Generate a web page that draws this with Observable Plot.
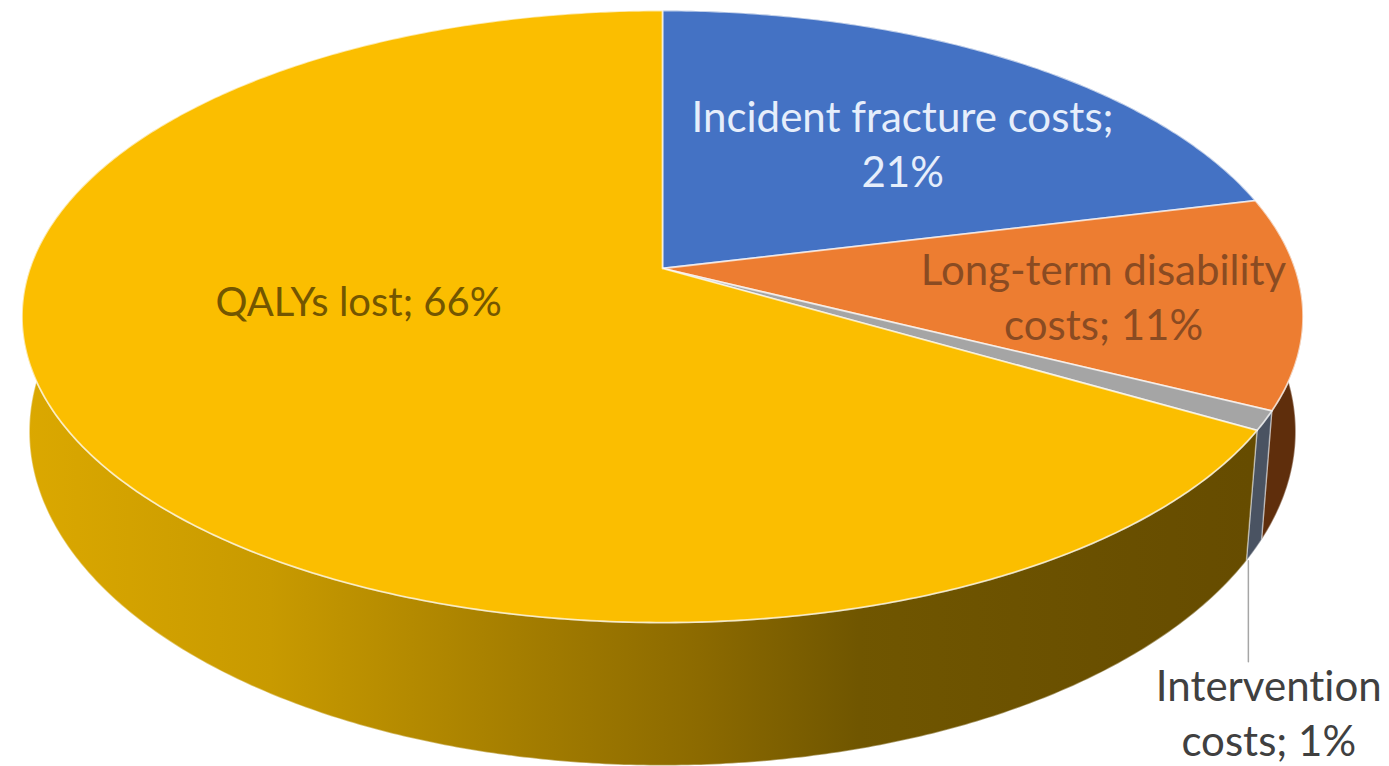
<!DOCTYPE html>
<html>
<head>
<meta charset="utf-8">
<script src="https://cdn.jsdelivr.net/npm/d3@7"></script>
<script src="https://cdn.jsdelivr.net/npm/@observablehq/plot@0.6"></script>
<style>
  html, body { margin: 0; padding: 0; background: #fff; }
  svg { display: block; }
  svg text { font-variant-ligatures: none; }
</style>
</head>
<body>
<div id="chart"></div>
<script>
// Shares of the cost burden, clockwise from twelve o'clock.
const categories = ["Incident fracture costs", "Long-term disability costs", "Intervention costs", "QALYs lost"];
const shares = [21, 11, 1, 66];
const labelTexts = ["Incident fracture costs;\n21%", "Long-term disability\ncosts; 11%", "Intervention\ncosts; 1%", "QALYs lost; 66%"];

// Appearance, in slice order.
const topColors = ["#4472C4", "#ED7D31", "#A5A5A5", "#FBBE00"];
const wallColors = ["#2A4A85", "#5F2E0C", "#4A5362", "url(#wallShade)"];
const labelColors = ["#E6EEFB", "#8A4B22", "#404040", "#735600"];
const labelSizes = [42, 42, 42, 40];

// Label anchors on the disc: bearing in degrees and fraction of the radius.
const labelBearings = [43, 98.7, 147.4, 255.9];
const labelRadii = [0.5945, 0.6937, 1.44, 0.486];

// Perspective view of the two faces of the disc.
const centerX = 662;
const topFace = {a: 632.6, b: -256.4, c: 268, k: 0.157};
const baseFace = {a: 627, b: -273.6, c: 384.3, k: 0.14};

function project(face, bearing, radius = 1) {
  const t = bearing * Math.PI / 180;
  const u = radius * Math.sin(t), v = radius * Math.cos(t);
  const d = 1 + face.k * v;
  return {x: centerX + face.a * u / d, y: (face.b * v + face.c) / d};
}

const total = d3.sum(shares);
const stops = [0, ...d3.cumsum(shares)].map(s => s / total * 360);

function arc(face, from, to) {
  const n = Math.ceil(Math.abs(to - from) / 0.5);
  return d3.range(n + 1).map(i => project(face, from + (to - from) * i / n));
}

const slices = categories.map((name, i) => {
  const from = stops[i], to = stops[i + 1];
  const apex = project(topFace, 0, 0);
  const top = [apex, ...arc(topFace, from, to), apex];
  // The wall of the largest slice stops once it is hidden behind the top face.
  const wallEnd = Math.min(to, 300);
  const rim = arc(topFace, from, wallEnd);
  const wall = [...rim, ...arc(baseFace, wallEnd, from), rim[0]];
  return {name, top, wall, topColor: topColors[i], wallColor: wallColors[i]};
});

const labels = labelTexts.map((text, i) => ({
  text,
  color: labelColors[i],
  size: labelSizes[i],
  ...project(topFace, labelBearings[i], labelRadii[i])
}));

// Leader from the foot of the small slice's wall down to its label.
const foot = project(baseFace, stops[3]);
const leader = [{x: foot.x + 2, y: foot.y}, {x: foot.x + 2, y: labels[2].y - 54}];

const wallShade = () => {
  const defs = d3.create("svg:defs");
  const g = defs.append("linearGradient")
    .attr("id", "wallShade")
    .attr("gradientUnits", "userSpaceOnUse")
    .attr("x1", 25).attr("x2", 1250).attr("y1", 0).attr("y2", 0);
  [[0, "#DBA800"], [0.2, "#C89A00"], [0.43, "#A07A00"], [0.55, "#8C6A00"], [0.68, "#705600"], [1, "#664C00"]]
    .forEach(([o, c]) => g.append("stop").attr("offset", o).attr("stop-color", c));
  return defs.node();
};

const chart = Plot.plot({
  width: 1389,
  height: 766,
  margin: 0,
  x: {domain: [0, 1389], range: [0, 1389], axis: null},
  y: {domain: [0, 766], range: [0, 766], axis: null},
  style: {background: "#fff", fontFamily: "Lato, sans-serif"},
  marks: [
    wallShade,
    ...slices.map(s => Plot.line(s.wall, {
      x: "x", y: "y", fill: s.wallColor, stroke: "#fff", strokeOpacity: 0.4, strokeWidth: 1.5
    })),
    ...slices.map(s => Plot.line(s.top, {
      x: "x", y: "y", fill: s.topColor, stroke: "#fff", strokeOpacity: 0.65, strokeWidth: 1.8
    })),
    Plot.line(leader, {x: "x", y: "y", stroke: "#A6A6A6", strokeWidth: 1.5}),
    ...labels.map(l => Plot.text([l], {
      x: "x", y: "y", text: "text", fill: l.color, dy: -5,
      fontSize: l.size, lineHeight: 1.31, lineAnchor: "middle", textAnchor: "middle"
    }))
  ]
});

document.getElementById("chart").append(chart);
</script>
</body>
</html>
